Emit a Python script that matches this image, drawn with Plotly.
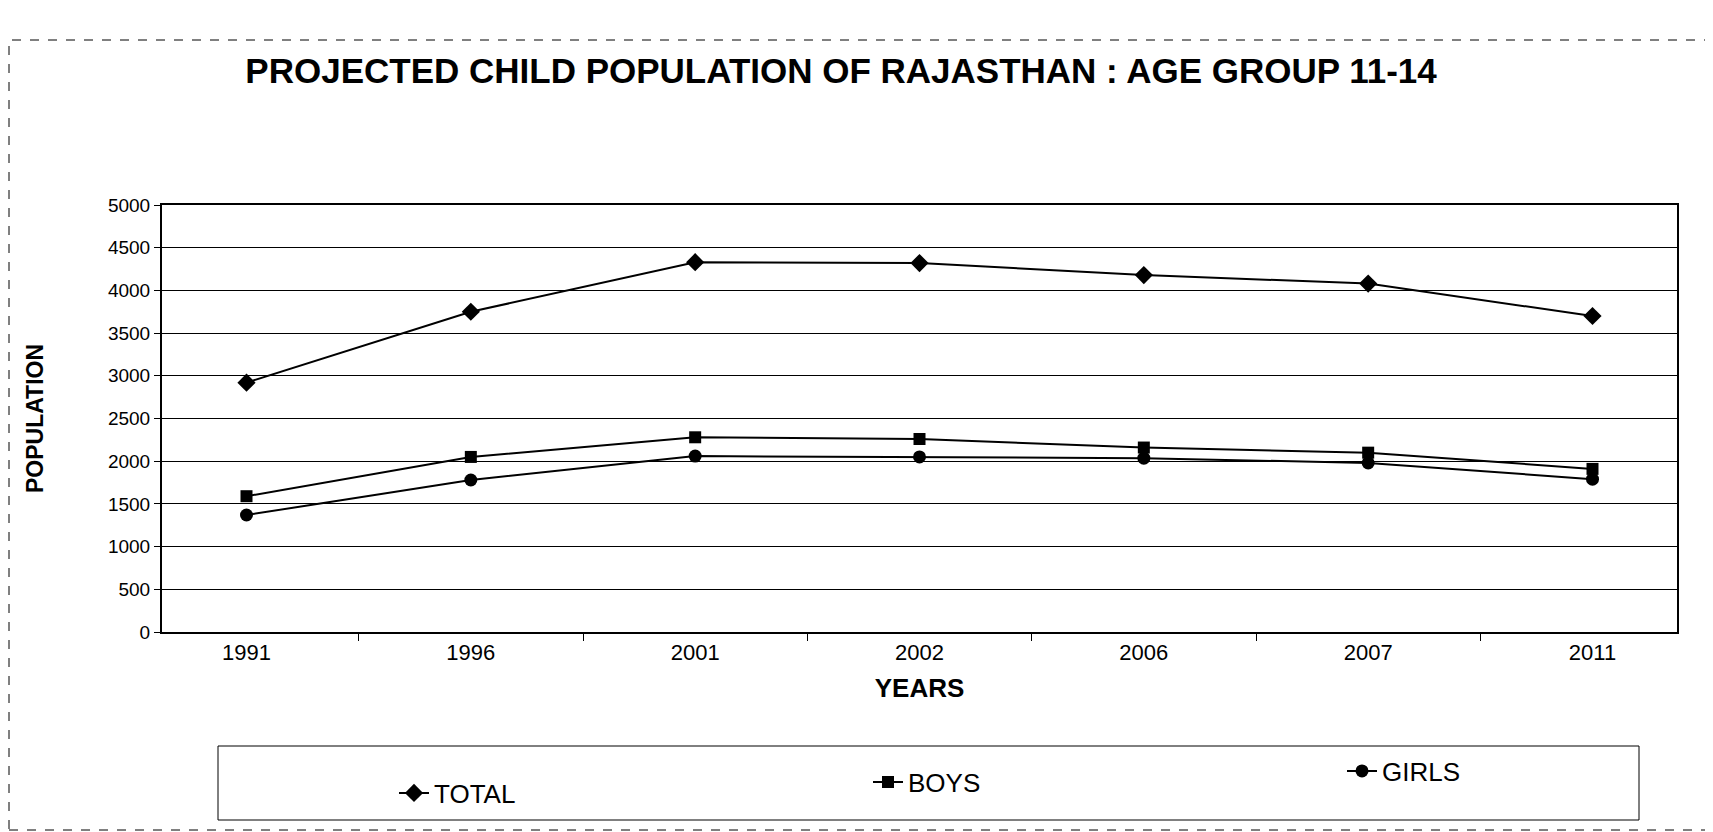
import plotly.graph_objects as go

years = ["1991", "1996", "2001", "2002", "2006", "2007", "2011"]
total = [2920, 3750, 4330, 4320, 4180, 4080, 3700]
boys = [1590, 2050, 2280, 2260, 2160, 2100, 1910]
girls = [1370, 1780, 2060, 2050, 2035, 1980, 1790]

font = "Arial, Liberation Sans, sans-serif"

fig = go.Figure()
fig.add_trace(go.Scatter(x=years, y=total, mode="lines+markers", name="TOTAL",
                         line=dict(color="black", width=2), legend="legend",
                         marker=dict(symbol="diamond", size=14, color="black")))
fig.add_trace(go.Scatter(x=years, y=boys, mode="lines+markers", name="BOYS",
                         line=dict(color="black", width=2), legend="legend2",
                         marker=dict(symbol="square", size=12, color="black")))
fig.add_trace(go.Scatter(x=years, y=girls, mode="lines+markers", name="GIRLS",
                         line=dict(color="black", width=2), legend="legend3",
                         marker=dict(symbol="circle", size=13, color="black")))

W, H = 1705, 824
L, R, T, B = 154, 36, 197, 200
PW = W - L - R
PH = H - T - B


def px(x):
    return (x - L) / PW


def py(y):
    return (H - B - y) / PH


def leg(x, y):
    return dict(x=px(x), xanchor="left", y=py(y), yanchor="middle",
                borderwidth=0, bgcolor="rgba(0,0,0,0)",
                font=dict(size=26, family=font, color="black"))


fig.update_layout(
    width=W, height=H,
    paper_bgcolor="white", plot_bgcolor="white",
    margin=dict(l=L, r=R, t=T, b=B),
    font=dict(family=font, color="black", size=19),
    title=dict(text="<b>PROJECTED CHILD POPULATION OF RAJASTHAN : AGE GROUP 11-14</b>",
               x=0.4886, xanchor="center", y=1 - 63 / H, yanchor="middle",
               font=dict(size=35, family=font, color="black")),
    showlegend=True,
    legend=leg(386, 785),
    legend2=leg(860, 774),
    legend3=leg(1334, 763),
)

fig.update_xaxes(
    type="category", showline=True, linecolor="black", linewidth=2, mirror=True,
    ticks="outside", tickson="boundaries", ticklen=7, tickcolor="black",
    showgrid=False, automargin=False, tickfont=dict(size=22),
    title=dict(text="<b>YEARS</b>", font=dict(size=26, family=font), standoff=14),
)
fig.update_yaxes(
    range=[0, 5000], dtick=500, showline=True, linecolor="black", linewidth=2,
    mirror=True, ticks="outside", ticklen=6, tickcolor="black",
    showgrid=True, gridcolor="black", gridwidth=1, zeroline=False,
    automargin=False, tickfont=dict(size=19),
    title=dict(text="<b>POPULATION</b>", font=dict(size=23, family=font), standoff=58),
)

# legend box
fig.add_shape(type="rect", xref="paper", yref="paper",
              x0=px(210), x1=px(1631), y0=py(812), y1=py(738),
              line=dict(color="black", width=1))

# outer chart border
fig.add_shape(type="rect", xref="paper", yref="paper",
              x0=px(1), x1=px(1700), y0=py(822), y1=py(32),
              line=dict(color="black", width=1, dash="dash"))

fig.write_html("out.html")
